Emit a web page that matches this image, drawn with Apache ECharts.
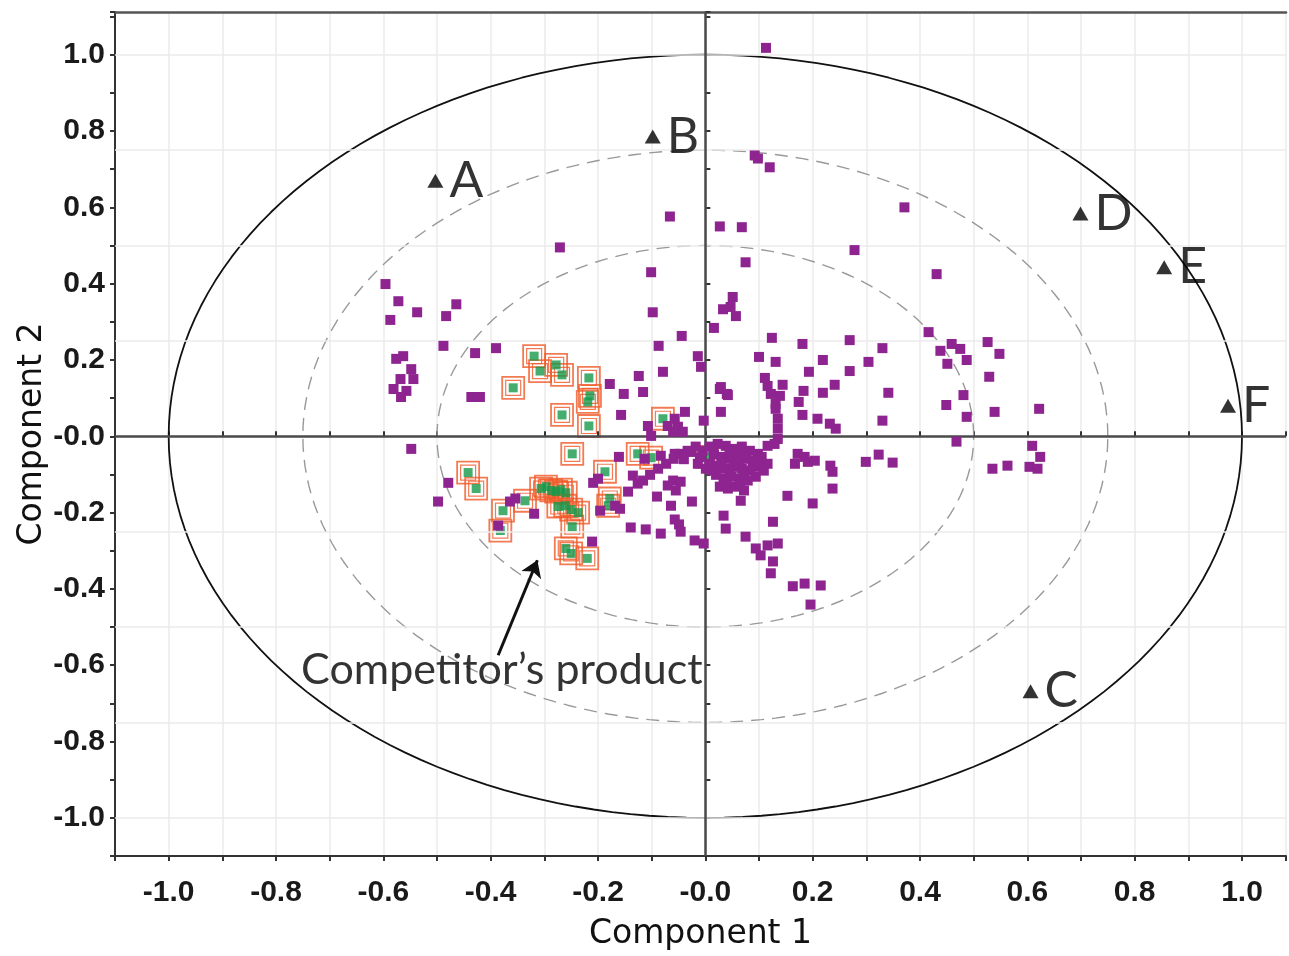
<!DOCTYPE html>
<html>
<head>
<meta charset="utf-8">
<script src="https://cdn.jsdelivr.net/npm/echarts@6/dist/echarts.min.js"></script>
<style>
html,body{margin:0;padding:0;background:#fff}
#main{width:1289px;height:956px}
</style>
</head>
<body>
<div id="main"></div>
<script>
// scores of all samples (component 1, component 2)
var samples = [
  [0.113,1.018],[0.092,0.736],[0.098,0.728],[0.120,0.705],[0.371,0.600],[-0.066,0.576],[0.027,0.550],[0.068,0.548],
  [0.278,0.488],[-0.271,0.495],[0.075,0.456],[-0.101,0.430],[0.431,0.425],[-0.098,0.325],[0.051,0.365],[0.033,0.333],
  [0.057,0.315],[0.047,0.339],[0.016,0.284],[-0.596,0.399],[-0.572,0.354],[-0.537,0.325],[-0.587,0.305],[-0.464,0.346],
  [-0.483,0.315],
  [-0.488,0.237],[-0.429,0.218],[-0.390,0.231],[-0.563,0.210],[-0.576,0.203],[-0.548,0.176],[-0.568,0.150],[-0.544,0.150],
  [-0.581,0.124],[-0.557,0.119],[-0.567,0.103],[-0.548,-0.033],[-0.436,0.103],[-0.420,0.103],[-0.498,-0.171],[-0.479,-0.122],
  [-0.386,-0.234],[-0.319,-0.203],[-0.354,-0.163],[-0.364,-0.171],[-0.209,-0.122],[-0.200,-0.111],[-0.196,-0.195],[-0.211,-0.276],
  [-0.168,-0.182],[-0.159,-0.190],
  [-0.178,0.137],[-0.152,0.111],[-0.124,0.158],[-0.116,0.116],[-0.087,0.237],[-0.044,0.263],[-0.079,0.169],[-0.157,0.056],
  [-0.014,0.210],[-0.008,0.182],[0.027,0.124],[0.040,0.111],[0.029,0.064],[-0.038,0.064],[-0.057,0.046],[-0.070,0.027],
  [-0.051,0.025],[-0.042,0.012],[-0.060,0.012],[-0.107,0.027],[-0.101,0.001],[-0.003,0.041],[-0.161,-0.054],[-0.135,-0.103],
  [-0.126,-0.124],[-0.144,-0.145],[-0.090,-0.158],[-0.064,-0.182],[-0.139,-0.239],[-0.111,-0.244],[-0.083,-0.255],[-0.070,-0.129],
  [-0.060,-0.116],[-0.046,-0.119],[-0.055,-0.142],[-0.025,-0.171],[-0.057,-0.218],[-0.049,-0.231],[-0.046,-0.250],[-0.020,-0.273],
  [-0.003,-0.281],[0.034,-0.208],[0.038,-0.242],[0.066,-0.169],[0.126,-0.224],[0.153,-0.156],[0.200,-0.176],[0.233,-0.077],
  [0.237,-0.093],[0.237,-0.137],[0.172,-0.046],[0.185,-0.054],[0.191,-0.067],[0.167,-0.072],[0.204,-0.064],[0.075,-0.263],
  [0.094,-0.294],[0.116,-0.286],[0.135,-0.281],[0.103,-0.312],[0.126,-0.328],[0.122,-0.359],[0.163,-0.393],[0.185,-0.386],
  [0.215,-0.391],[0.196,-0.441],
  [0.008,-0.027],[0.023,-0.020],[0.038,-0.025],[0.053,-0.033],[0.068,-0.027],[0.083,-0.038],[0.098,-0.046],[0.016,-0.048],
  [0.031,-0.054],[0.046,-0.059],[0.060,-0.051],[0.075,-0.059],[0.090,-0.064],[0.105,-0.054],[0.008,-0.072],[0.023,-0.077],
  [0.038,-0.085],[0.053,-0.080],[0.068,-0.085],[0.083,-0.090],[0.098,-0.080],[0.020,-0.101],[0.034,-0.111],[0.049,-0.106],
  [0.064,-0.111],[0.079,-0.116],[0.094,-0.106],[0.027,-0.132],[0.042,-0.137],[0.057,-0.132],[0.072,-0.142],[0.109,-0.090],
  [0.116,-0.072],[-0.005,-0.038],[-0.018,-0.027],[-0.033,-0.038],[-0.047,-0.046],[-0.059,-0.059],[-0.073,-0.072],[-0.088,-0.085],
  [-0.103,-0.101],[-0.116,-0.116],[-0.014,-0.072],[0.001,-0.085],[-0.113,-0.059],[-0.083,-0.051],[-0.057,-0.046],[-0.027,-0.041],
  [0.015,-0.035],[0.045,-0.040],[0.075,-0.045],[0.030,-0.068],[0.062,-0.070],[0.088,-0.075],[0.012,-0.090],[0.045,-0.095],
  [0.072,-0.100],[0.102,-0.068],[0.040,-0.122],[0.065,-0.125],[-0.040,-0.060],[-0.010,-0.055],
  [0.124,0.258],[0.181,0.242],[0.269,0.252],[0.330,0.231],[0.100,0.208],[0.131,0.195],[0.219,0.200],[0.304,0.195],
  [0.193,0.169],[0.269,0.171],[0.241,0.135],[0.183,0.119],[0.219,0.114],[0.341,0.114],[0.174,0.090],[0.111,0.153],
  [0.116,0.132],[0.144,0.135],[0.122,0.111],[0.139,0.106],[0.131,0.085],[0.029,0.129],[0.042,0.108],[0.131,0.072],
  [0.135,0.046],[0.135,0.020],[0.135,-0.007],[0.116,-0.025],[0.129,-0.020],[0.181,0.056],[0.209,0.046],[0.232,0.033],
  [0.243,0.020],[0.416,0.273],[0.459,0.242],[0.438,0.224],[0.475,0.229],[0.451,0.190],[0.487,0.200],[0.526,0.247],
  [0.548,0.216],[0.529,0.156],[0.481,0.108],[0.449,0.082],[0.487,0.051],[0.539,0.064],[0.622,0.072],[0.330,0.041],
  [0.468,-0.014],[0.609,-0.025],[0.624,-0.054],[0.604,-0.080],[0.619,-0.085],[0.535,-0.085],[0.563,-0.077],[0.323,-0.048],
  [0.299,-0.067],[0.349,-0.069]
];

// competitor's product samples
var competitor = [
  [-0.319,0.210],[-0.308,0.171],[-0.278,0.187],[-0.267,0.161],[-0.358,0.127],[-0.217,0.153],[-0.215,0.106],[-0.219,0.090],
  [-0.267,0.056],[-0.217,0.027],[-0.248,-0.046],[-0.126,-0.046],[-0.101,-0.056],[-0.079,0.046],[-0.187,-0.093],[-0.178,-0.163],
  [-0.181,-0.182],[-0.442,-0.095],[-0.427,-0.137],[-0.377,-0.195],[-0.382,-0.247],[-0.336,-0.169],[-0.306,-0.137],[-0.297,-0.132],
  [-0.287,-0.142],[-0.278,-0.145],[-0.269,-0.140],[-0.260,-0.148],[-0.274,-0.184],[-0.261,-0.182],[-0.250,-0.192],[-0.237,-0.200],
  [-0.248,-0.237],[-0.260,-0.294],[-0.250,-0.307],[-0.220,-0.320],[0.003,-0.054]
];

// loadings of the variables
var loadingNames = ['A', 'B', 'C', 'D', 'E', 'F'];
var loadingX = [-0.503, -0.098, 0.606, 0.699, 0.855, 0.974];
var loadingY = [0.670, 0.786, -0.668, 0.584, 0.443, 0.080];

var ellipseRadii = [1.0, 0.75, 0.5];
var hGridValues = [-1.0, -0.75, -0.5, -0.25, 0.25, 0.5, 0.75, 1.0];

var noteText = 'Competitor\u2019s product';
var notePos = [-0.379, -0.613];
var arrowFrom = [-0.386, -0.574];
var arrowTo = [-0.313, -0.325];

var purple = '#8E2490';
var green = '#17994A';
var orange = '#F05A28';

function ring(r) {
	var pts = [];
	for (var i = 0; i <= 360; i += 2) {
		var t = i * Math.PI / 180;
		pts.push([r * Math.cos(t), r * Math.sin(t)]);
	}
	return pts;
}

function tickLabel(v) {
	var k = Math.round(v * 10);
	if (k % 2 !== 0) return '';
	if (k === 0) return '-0.0';
	return (k / 10).toFixed(1);
}

var loadings = loadingNames.map(function(n, i) {
	return { name: n, value: [loadingX[i], loadingY[i]] };
});

var myChart = echarts.init(document.getElementById('main'));

var labelFont = { fontFamily: 'Liberation Sans', fontSize: 30, fontWeight: 'bold', color: '#1a1a1a' };

var series = [];

// horizontal grid lines
series.push({
	type: 'line', data: [], silent: true, z: 1,
	markLine: {
		silent: true, symbol: 'none', animation: false,
		label: { show: false },
		lineStyle: { color: '#ebebeb', width: 1.5, type: 'solid' },
		data: hGridValues.map(function(v) { return { yAxis: v }; })
	}
});

// zero lines
series.push({
	type: 'line', data: [], silent: true, z: 2,
	markLine: {
		silent: true, symbol: 'none', animation: false,
		label: { show: false },
		lineStyle: { color: '#4a4a4a', width: 2.5, type: 'solid' },
		data: [{ xAxis: 0 }, { yAxis: 0 }]
	}
});

// ellipses
ellipseRadii.forEach(function(r, i) {
	series.push({
		type: 'line', data: ring(r), showSymbol: false, silent: true, z: 3,
		lineStyle: i === 0 ? { color: '#111', width: 1.8 } : { color: '#999', width: 1.4, type: [13, 8] }
	});
});

// competitor: orange frames under the purple marks, green centres
series.push({
	type: 'scatter', data: competitor, symbol: 'rect', symbolSize: 22, z: 4,
	itemStyle: { color: 'rgba(0,0,0,0)', borderColor: orange, borderWidth: 1.8 }
});
series.push({
	type: 'scatter', data: competitor, symbol: 'rect', symbolSize: 15, z: 4,
	itemStyle: { color: 'rgba(0,0,0,0)', borderColor: orange, borderWidth: 1.2 }
});
series.push({
	name: 'competitor', type: 'scatter', data: competitor, symbol: 'rect', symbolSize: 9, z: 4,
	itemStyle: { color: green }
});

series.push({
	name: 'samples', type: 'scatter', data: samples, symbol: 'rect', symbolSize: 10, z: 5,
	itemStyle: { color: purple, opacity: 1 }
});

series.push({
	type: 'scatter', data: loadings, symbol: 'triangle', symbolSize: [16, 14], z: 7,
	itemStyle: { color: '#000' },
	label: {
		show: true, position: 'right', distance: 6, formatter: '{b}',
		fontFamily: 'Lato', fontSize: 50, color: '#000'
	}
});

series.push({
	type: 'scatter', data: [notePos], symbolSize: 1, z: 7,
	itemStyle: { color: 'rgba(0,0,0,0)' },
	label: {
		show: true, position: 'inside', formatter: noteText,
		fontFamily: 'Lato', fontSize: 43, color: '#000'
	}
});

series.push({
	type: 'lines', coordinateSystem: 'cartesian2d', z: 7, silent: true,
	symbol: ['none', 'arrow'], symbolSize: 16,
	lineStyle: { color: '#111', width: 3, opacity: 1 },
	data: [{ coords: [arrowFrom, arrowTo] }]
});

var option = {
	backgroundColor: '#fff',
	animation: false,
	grid: { left: 115, right: 0, top: 12, bottom: 99 },
	xAxis: [
		{
			type: 'value', min: -1.1, max: 1.082, interval: 0.1, position: 'bottom',
			name: 'Component 1', nameLocation: 'middle', nameGap: 62, nameMoveOverlap: false,
			nameTextStyle: { fontFamily: 'DejaVu Sans', fontSize: 33, color: '#111' },
			axisLine: { onZero: false, lineStyle: { color: '#333', width: 2 } },
			axisTick: { length: 5, lineStyle: { color: '#333', width: 2 } },
			axisLabel: Object.assign({ margin: 22, formatter: tickLabel, showMinLabel: true, showMaxLabel: true }, labelFont),
			splitLine: { show: true, lineStyle: { color: '#ebebeb', width: 1.5 } }
		},
		{
			type: 'value', min: -1.1, max: 1.082, interval: 0.1, position: 'bottom',
			axisLine: { show: false },
			axisTick: { inside: true, length: 5, lineStyle: { color: '#333', width: 2 } },
			axisLabel: { show: false }, splitLine: { show: false }
		},
		{
			type: 'value', min: -1.1, max: 1.082, position: 'top',
			axisLine: { show: true, onZero: false, lineStyle: { color: '#555', width: 2.5 } },
			axisTick: { show: false }, axisLabel: { show: false }, splitLine: { show: false }
		}
	],
	yAxis: [
		{
			type: 'value', min: -1.1, max: 1.112, interval: 0.1, position: 'left',
			name: 'Component 2', nameLocation: 'middle', nameGap: 66, nameRotate: 90, nameMoveOverlap: false,
			nameTextStyle: { fontFamily: 'DejaVu Sans', fontSize: 33, color: '#111' },
			axisLine: { onZero: false, lineStyle: { color: '#333', width: 2 } },
			axisTick: { length: 5, lineStyle: { color: '#333', width: 2 } },
			axisLabel: Object.assign({ margin: 10, formatter: tickLabel }, labelFont),
			splitLine: { show: false }
		},
		{
			type: 'value', min: -1.1, max: 1.112, interval: 0.1, position: 'left',
			axisLine: { show: false },
			axisTick: { inside: true, length: 5, lineStyle: { color: '#333', width: 2 } },
			axisLabel: { show: false }, splitLine: { show: false }
		}
	],
	series: series
};

myChart.setOption(option);
</script>
</body>
</html>
